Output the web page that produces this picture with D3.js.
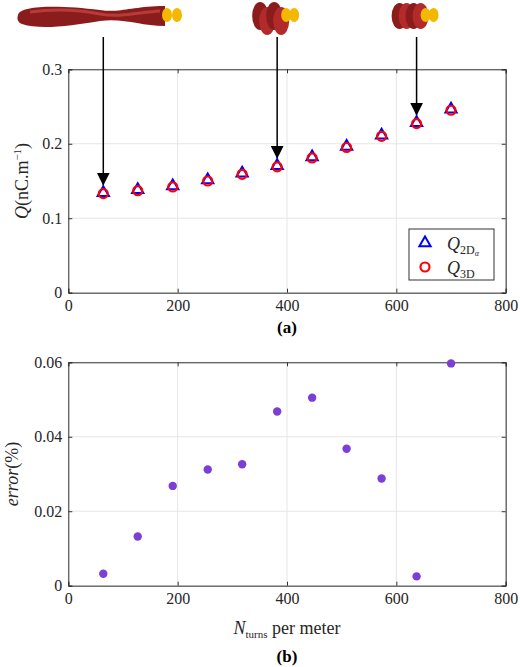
<!DOCTYPE html><html><head><script src="https://cdn.jsdelivr.net/npm/d3@7"></script>
<style>body{margin:0;background:#fff}svg text{font-family:"Liberation Serif","Times New Roman","DejaVu Serif",serif !important}</style></head><body>
<svg id="c" width="520" height="667"></svg>
<script>
const nTurns=[64,127,191,255,318,382,446,509,573,637,700];
const q2D=[0.133,0.137,0.142,0.150,0.159,0.169,0.181,0.195,0.210,0.227,0.245];
const q3D=[0.133,0.137,0.142,0.150,0.159,0.169,0.181,0.195,0.210,0.227,0.245];
const errPct=[0.0032,0.0132,0.0268,0.0312,0.0326,0.0468,0.0505,0.0368,0.0288,0.0025,0.0597];
const xTicks=[0,200,400,600,800];
const qTicks=[0,0.1,0.2,0.3];
const eTicks=[0,0.02,0.04,0.06];
const arrowAt=[64,382,637];
const arrowEnd=[0.133,0.169,0.227];

const svg=d3.select("#c");
const x=d3.scaleLinear().domain([0,800]).range([68.3,505.7]);
const yq=d3.scaleLinear().domain([0,0.3]).range([292.7,69.3]);
const ye=d3.scaleLinear().domain([0,0.06]).range([585.7,362.3]);

function frame(y,ticks,fmt){
  const g=svg.append("g");
  ticks.forEach(t=>{g.append("line").attr("x1",x(0)).attr("x2",x(800)).attr("y1",y(t)).attr("y2",y(t)).attr("stroke","#e6e6e6");});
  xTicks.forEach(t=>{g.append("line").attr("x1",x(t)).attr("x2",x(t)).attr("y1",y.range()[0]).attr("y2",y.range()[1]).attr("stroke","#e6e6e6");});
  g.append("g").attr("transform",`translate(0,${y.range()[0]})`).call(d3.axisBottom(x).tickValues(xTicks).tickSize(-4).tickPadding(7));
  g.append("g").attr("transform",`translate(${x(0)},0)`).call(d3.axisLeft(y).tickValues(ticks).tickFormat(fmt).tickSize(-4).tickPadding(6));
  g.append("g").attr("transform",`translate(0,${y.range()[1]})`).call(d3.axisTop(x).tickValues(xTicks).tickSize(-4).tickFormat(""));
  g.append("g").attr("transform",`translate(${x(800)},0)`).call(d3.axisRight(y).tickValues(ticks).tickSize(-4).tickFormat(""));
  g.selectAll("g").attr("font-family",null);
  g.selectAll(".domain").attr("stroke","#333");
  g.selectAll(".tick line").attr("stroke","#333");
  g.selectAll(".tick text").attr("font-size",16).attr("fill","#262626");
}
frame(yq,qTicks,d=>d===0?"0":d3.format(".1f")(d));
frame(ye,eTicks,d=>d===0?"0":d3.format(".2f")(d));

svg.append("defs").append("marker").attr("id","ah").attr("viewBox","0 0 10 10").attr("refX",10).attr("refY",5)
 .attr("markerWidth",13).attr("markerHeight",13).attr("markerUnits","userSpaceOnUse").attr("orient","auto")
 .append("path").attr("d","M0,0L10,5L0,10z");
arrowAt.forEach((a,i)=>{svg.append("line").attr("x1",x(a)).attr("x2",x(a)).attr("y1",37).attr("y2",yq(arrowEnd[i])-8)
 .attr("stroke","#000").attr("stroke-width",1.5).attr("marker-end","url(#ah)");});

// icons
const ic=svg.append("g");
ic.append("path").attr("d","M18,15 C20,5 60,5 100,10 C120,13 130,7 160,6 L165,6 L165,26 C140,26 125,18 100,21 C70,26 40,30 22,24 C17,22 17,18 18,15Z").attr("fill","#8b1c1c");
ic.append("path").attr("d","M30,12 C60,8 80,10 100,14 C120,18 140,12 160,11").attr("fill","none").attr("stroke","#b83a3a").attr("stroke-width",3);
[[167,15],[177,15]].forEach(p=>ic.append("ellipse").attr("cx",p[0]).attr("cy",p[1]).attr("rx",5).attr("ry",7).attr("fill","#f5b800"));
[[0,382],[1,637]].forEach(([k,a])=>{
  const c=x(a);
  for(let j=0;j<4;j++) ic.append("ellipse").attr("cx",c-17+j*7).attr("cy",16+(k===0?(j%2)*5:0)).attr("rx",8).attr("ry",k===0?14:13).attr("fill",j%2?"#b32a2a":"#8b1c1c");
  ic.append("ellipse").attr("cx",c+9).attr("cy",15).attr("rx",5).attr("ry",7).attr("fill","#f5b800");
  ic.append("ellipse").attr("cx",c+17).attr("cy",15).attr("rx",5).attr("ry",7).attr("fill","#f5b800");
});

const tri=d3.symbol().type(d3.symbolTriangle).size(55);
svg.append("g").selectAll("path").data(nTurns).join("path").attr("d",tri)
 .attr("transform",(d,i)=>`translate(${x(d)},${yq(q2D[i])-1})`).attr("fill","none").attr("stroke","#0000ff").attr("stroke-width",2);
svg.append("g").selectAll("circle").data(nTurns).join("circle").attr("cx",d=>x(d)).attr("cy",(d,i)=>yq(q3D[i])).attr("r",4.5)
 .attr("fill","none").attr("stroke","#ff0000").attr("stroke-width",2.2);

svg.append("rect").attr("x",409).attr("y",229).attr("width",85).attr("height",51).attr("fill","#fff").attr("stroke","#333");
svg.append("path").attr("d",tri).attr("transform","translate(425,243)").attr("fill","none").attr("stroke","#0000ff").attr("stroke-width",2);
svg.append("circle").attr("cx",425).attr("cy",267).attr("r",4.5).attr("fill","none").attr("stroke","#ff0000").attr("stroke-width",2.2);
const l1=svg.append("text").attr("x",447).attr("y",250).attr("font-size",18).attr("fill","#262626");
l1.append("tspan").attr("font-style","italic").text("Q");
l1.append("tspan").attr("font-size",12).attr("dy",4).text("2D");
l1.append("tspan").attr("font-size",8).attr("dy",2).attr("font-style","italic").text("α");
const l2=svg.append("text").attr("x",447).attr("y",274).attr("font-size",18).attr("fill","#262626");
l2.append("tspan").attr("font-style","italic").text("Q");
l2.append("tspan").attr("font-size",12).attr("dy",4).text("3D");

const yl=svg.append("text").attr("transform",`translate(28,${yq(0.15)}) rotate(-90)`).attr("text-anchor","middle").attr("font-size",18).attr("fill","#262626");
yl.append("tspan").attr("font-style","italic").text("Q");
yl.append("tspan").text("(nC.m");
yl.append("tspan").attr("font-size",11).attr("dy",-7).text("−1");
yl.append("tspan").attr("dy",7).text(")");
svg.append("text").attr("transform",`translate(18,${ye(0.03)}) rotate(-90)`).attr("text-anchor","middle").attr("font-size",18).attr("fill","#262626")
 .html('<tspan font-style="italic">error</tspan>(%)');

svg.append("g").selectAll("circle").data(nTurns).join("circle").attr("cx",d=>x(d)).attr("cy",(d,i)=>ye(errPct[i])).attr("r",4.2).attr("fill","#7b3fd6");

const xl=svg.append("text").attr("x",x(400)).attr("y",634).attr("text-anchor","middle").attr("font-size",18).attr("fill","#262626");
xl.append("tspan").attr("font-style","italic").text("N");
xl.append("tspan").attr("font-size",11).attr("dy",4).text("turns");
xl.append("tspan").attr("dy",-4).text(" per meter");
svg.append("text").attr("x",x(400)).attr("y",333).attr("text-anchor","middle").attr("font-size",17).attr("font-weight","bold").text("(a)");
svg.append("text").attr("x",x(400)).attr("y",662).attr("text-anchor","middle").attr("font-size",17).attr("font-weight","bold").text("(b)");
</script></body></html>
